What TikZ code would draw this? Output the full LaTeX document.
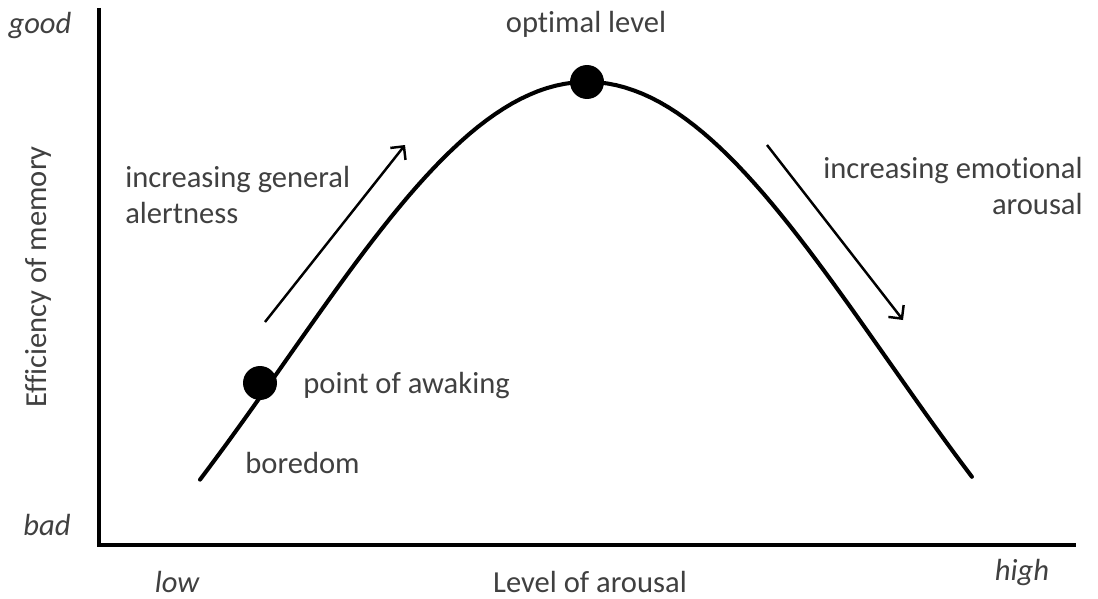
\documentclass[tikz,border=0pt]{standalone}
\usepackage{fontspec}
\setmainfont{Carlito}[Ligatures=NoCommon]
\definecolor{ArText}{RGB}{64,64,64}
\usetikzlibrary{
    arrows.meta,
    positioning,
}

\begin{document}
\begin{tikzpicture}[x=0.02cm, y=-0.02cm,
        lbl/.style={font=\fontsize{17.4}{20}\selectfont, text=ArText, inner sep=0pt},
        axlbl/.style={lbl, font=\fontsize{17.4}{20}\selectfont\itshape},
        dotpt/.style={circle, fill=black, inner sep=0pt, minimum size=0.68cm},
        trend/.style={-{Straight Barb[length=5.5pt,width=11pt]}, line width=1.4pt},
    ]
        \useasboundingbox (0,0) rectangle (1098,598);
        % axes
        \coordinate (ytop) at (99,8);
        \coordinate (origin) at (99,545);
        \coordinate (xend) at (1076,545);
        \draw[line width=2.8pt, line join=miter] (ytop) -- (origin) -- (xend);
        \node[axlbl, anchor=base] (good) at (40,34) {good};
        \node[axlbl, anchor=base] (bad) at (47,535) {bad};
        \node[axlbl, anchor=base] (low) at (177,592) {low};
        \node[axlbl, anchor=base] (high) at (1022,580) {high};
        \node[lbl, anchor=base] (xlab) at (590,592) {Level of arousal};
        \node[lbl, rotate=90] (ylab) at (38,277) {Efficiency of memory};
        % inverted-U curve
        \draw[line width=2.3pt, line cap=round, samples=90, domain=-3.87:3.85]
            plot ({587+100*\x}, {82+704*(1-exp(-\x*\x/18))});
        \node[dotpt] (peak) at (587,82) {};
        \node[dotpt] (awake) at (260,383) {};
        \node[lbl, anchor=base] (optimal) at (586,33) {optimal level};
        \node[lbl, anchor=base west] (awaking) at (303,393) {point of awaking};
        \node[lbl, anchor=base west] (boredom) at (245,473) {boredom};
        % trend arrows
        \coordinate (upA) at (265,322);
        \coordinate (upB) at (405,145);
        \coordinate (dnA) at (767,145);
        \coordinate (dnB) at (903,320);
        \draw[trend] (upA) -- (upB);
        \draw[trend] (dnA) -- (dnB);
        \node[lbl, anchor=west, align=left] (alert) at (125,195) {increasing general\\alertness};
        \node[lbl, anchor=east, align=right] (emot) at (1083,186) {increasing emotional\\arousal};
    \end{tikzpicture}
\end{document}
